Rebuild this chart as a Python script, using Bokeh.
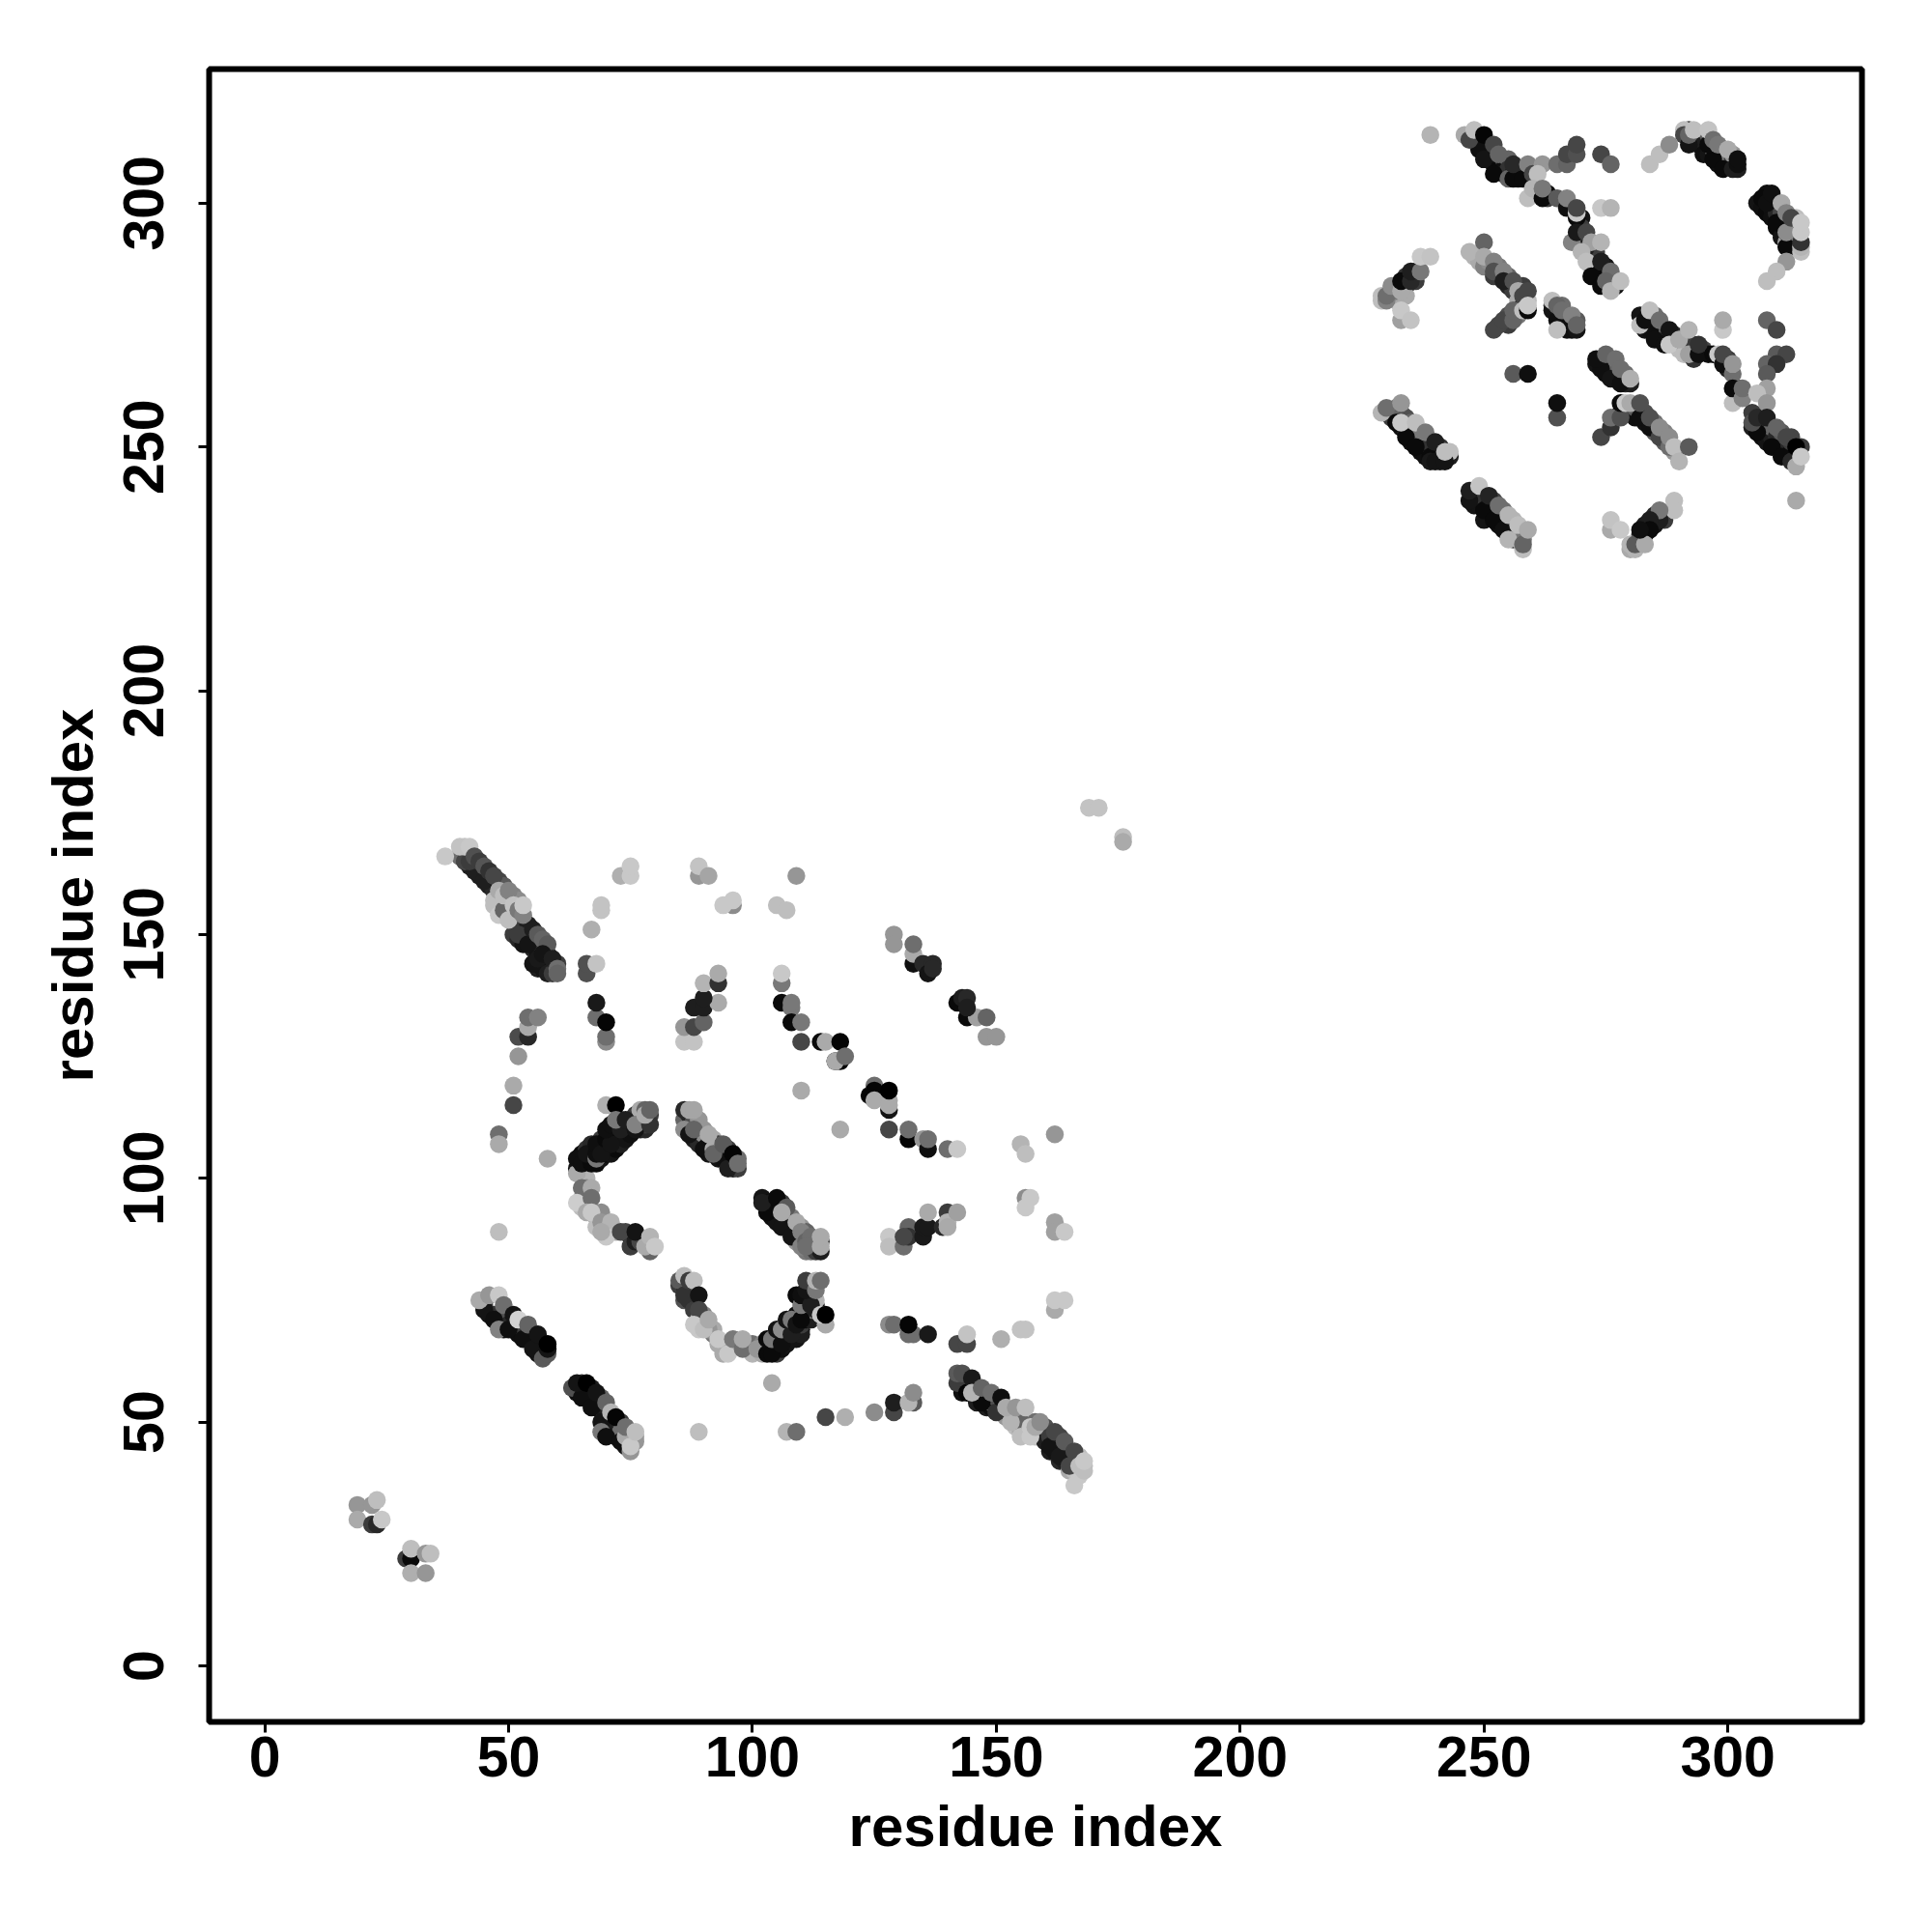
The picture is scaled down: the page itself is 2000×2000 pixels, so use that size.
from bokeh.plotting import figure
from bokeh.models import ColumnDataSource, Range1d, FixedTicker
from bokeh.embed import file_html
from bokeh.resources import INLINE

tick_values = [0, 50, 100, 150, 200, 250, 300]
axis_title = "residue index"

# each contact is (residue i, residue j, grey level)
under_a = [(41,166,40),(42,164,30),(43,165,50),(44,162,30),(44,164,70),(45,162,60),(46,160,30),(46,162,60),(47,160,50),(47,159,40),(48,157,110),(48,161,70),
 (49,160,90),(49,156,120),(50,155,110),(50,157,150),(51,154,170),(51,158,130),(52,157,140),(52,152,180),(51,150,60),(52,149,40),(53,152,60),(53,149,60),(53,148,20),(54,152,30),(54,150,40),
 (55,149,20),(55,147,40),(56,148,30),(56,146,20),(57,147,70),(57,144,20),(58,146,40),(58,145,30),(58,143,20),(59,144,25),(59,143,15),(60,144,60),(56,143,30),(57,143,20)]
under_b = [(65,105,10),(66,103,15),(66,106,50),(67,105,15),(67,107,40),(68,103,10),(69,107,15),(69,104,20),(69,108,60),(70,105,10),(70,106,90),(71,109,15),(71,105,20),
 (72,108,20),(72,106,10),(72,110,40),(73,108,15),(73,107,30),(73,112,20),(74,110,90),(74,108,20),(75,110,20),(75,112,40),(75,109,15),(76,113,60),(77,110,30),(77,112,60),
 (78,110,40),(78,111,60),(77,114,170),(78,114,100),(79,113,60),(64,102,20),(65,101,120),(66,100,180),(66,98,140),(65,96,190),(66,96,170),(65,94,190),(68,92,170),(68,90,190),
 (69,93,140),(70,90,160),(72,89,170),(74,89,70),(75,88,40),(75,86,60),(78,87,150)]
under_c = [(86,112,100),(87,111,110),(87,113,40),(88,112,80),(88,108,30),(89,108,20),(89,110,90),(89,107,40),(89,112,150),(90,109,140),(90,110,150),(91,107,40),(91,105,20),
 (92,108,170),(93,105,30),(93,107,60),(93,104,20),(94,105,60),(95,104,40),(95,106,60),(96,103,20),(96,102,30),(97,102,60),(97,104,110)]
under_d = [(45,74,60),(46,72,20),(47,72,50),(48,71,30),(49,71,80),(49,69,15),(50,70,40),(51,69,15),(52,68,15),(52,70,80),(53,69,60),(54,67,15),(55,68,70),(55,66,20),(56,66,15),
 (57,66,40),(57,64,20),(58,65,20),(56,64,20),(54,68,40),(56,67,80)]
under_e = [(64,57,30),(64,56,15),(65,58,50),(65,57,80),(66,55,20),(66,56,60),(67,57,30),(67,55,60),(68,54,20),(68,53,15),(69,55,100),(69,53,70),(70,52,30),(70,50,15),(71,51,90),
 (71,50,20),(71,48,15),(72,49,30),(72,47,15),(73,50,60),(73,48,110),(74,45,20),(74,46,120),(75,46,100),(75,48,140),(76,47,160)]
under_f = [(103,65,15),(103,66,15),(104,65,10),(104,66,30),(105,65,15),(105,64,60),(105,67,15),(106,65,15),(106,67,15),(106,68,50),(107,66,20),(107,68,15),(107,69,90),(108,70,15),
 (108,67,20),(109,67,20),(109,69,10),(109,72,15),(110,69,20),(110,68,30),(110,70,60),(110,72,30),(111,72,40),(111,71,15),(111,74,15),(111,75,90),(112,72,20),(112,71,30),(112,76,20),
 (112,73,120),(113,73,30),(113,74,15),(112,78,170),(113,75,180),(85,78,60),(86,78,30),(87,77,100),(86,75,80),(87,75,50),(88,73,60),(89,71,180),(89,69,200),(90,72,130),(92,68,120),
 (92,69,170),(94,66,190),(94,64,170),(97,66,150),(100,66,110),(100,64,180),(102,66,130),(102,64,170)]
under_g = [(102,96,20),(103,95,15),(104,95,30),(104,92,15),(105,93,15),(105,91,20),(106,95,60),(107,92,20),(107,90,15),(108,92,120),(108,90,20),(109,90,80),(109,88,15),(109,87,150),
 (110,88,20),(110,90,150),(111,89,100),(111,85,120),(112,86,30),(112,85,110),(113,85,60),(113,87,130),(114,87,40)]
under_h = [(143,58,30),(143,56,15),(144,58,50),(145,58,20),(145,57,30),(146,57,60),(146,55,10),(146,54,30),(147,56,50),(148,55,20),(148,56,100),(148,53,30),(149,53,15),(149,54,100),
 (150,54,20),(150,55,80),(151,52,30),(151,53,100),(152,51,150),(153,52,140),(154,51,170),(154,49,190),(155,52,160),(155,48,170),(156,50,150),(156,48,190),(157,50,170),(158,47,190),
 (158,50,110),(159,48,180),(160,48,60),(160,46,30),(160,49,80),(161,47,60),(161,44,30),(162,46,50),(162,44,20),(163,47,70),(163,42,40),(164,44,60),(164,42,30),(165,44,60),(165,42,190),
 (165,40,170),(166,42,180),(166,40,190),(167,43,190),(167,39,200),(168,41,190)]
under_top_one = [(249,313,15),(250,312,10),(251,310,15),(251,312,30),(252,310,40),(252,308,15),(253,308,20),(253,307,10),(254,309,80),(254,307,15),(254,306,30),(255,309,100),(255,307,50),
 (256,306,20),(257,307,30),(257,305,15),(258,307,80),(260,305,100),(263,302,10),(263,301,60),(270,297,20),(270,295,60),(270,293,30),(270,292,120),(272,290,40),(272,288,15),(273,290,60),
 (273,287,15),(273,285,10),(274,285,100),(275,287,20),(275,286,120),(276,284,30),(277,284,60),(277,283,20),(272,287,190),(273,286,10),(276,283,15),(271,291,30)]
under_top_two = [(292,315,50),(293,313,30),(294,312,20),(294,314,60),(295,312,30),(295,310,15),(296,310,20),(296,314,90),(297,311,110),(298,308,15),(298,310,70),(299,311,90),(299,309,30),
 (300,308,20),(300,309,130),(301,309,60),(301,310,150),(302,307,30),(306,300,20),(307,299,15),(308,298,10),(308,302,15),(309,299,20),(309,297,15),(310,300,120),(310,298,40),(310,295,10),
 (311,298,70),(311,295,15),(311,293,20),(312,296,60),(313,295,30),(313,294,60),(313,293,190),(313,292,100),(314,294,170),(314,297,190),(314,292,60),(314,291,30),(312,292,160)]
under_mid_one = [(248,289,180),(249,288,170),(250,287,130),(251,288,140),(252,285,60),(253,287,120),(253,285,60),(254,285,60),(255,285,100),(255,283,40),(256,282,60),(257,280,170),(258,283,60),
 (258,279,20),(259,280,190),(257,277,120),(255,277,80),(255,275,60),(253,275,70),(264,279,60),(265,277,30),(266,276,40),(266,279,110),(267,276,20),(267,277,100),(267,275,50),(268,275,20),
 (268,274,15),(268,276,110),(269,276,90)]
under_mid_two = [(273,267,20),(274,268,80),(275,265,15),(275,267,60),(276,267,90),(276,266,30),(277,265,15),(277,266,100),(278,264,20),(279,264,15),(279,265,110),(279,263,40),(280,263,30),
 (278,257,20),(280,257,60),(281,256,15),(281,258,90),(283,255,20),(283,257,80),(285,253,90),(285,255,110),(287,251,90),(287,253,130),(289,249,150)]
under_mid_three = [(282,277,20),(283,274,20),(284,276,50),(285,275,30),(285,277,110),(286,273,10),(286,272,30),(287,274,50),(287,273,90),(288,272,40),(289,271,120),(289,273,40),(290,270,190),
 (291,271,60),(291,269,190),(293,269,130),(293,271,60),(293,268,50),(295,270,70),(296,269,15),(300,266,30),(300,268,60),(302,262,40)]
under_low_one = [(305,254,30),(306,254,30),(307,254,15),(307,252,15),(307,255,70),(308,252,15),(308,251,20),(308,254,90),(309,252,30),(309,254,100),(310,250,10),(310,252,40),(311,250,20),
 (311,253,90),(312,249,15),(312,250,40),(313,249,15),(313,251,60),(313,252,70),(314,248,30),(315,250,60),(314,247,150)]
under_low_two = [(231,257,140),(231,256,60),(232,258,110),(232,256,50),(233,254,15),(233,257,100),(234,256,80),(234,253,30),(235,253,15),(235,251,15),(235,255,100),(236,252,30),(237,251,15),
 (237,249,15),(237,253,120),(238,250,20),(238,249,10),(238,248,15),(239,250,50),(240,248,15),(240,249,40),(241,248,20),(241,250,50),(241,247,25),(242,248,30),(243,248,30),(243,249,190)]
under_low_three = [(248,240,30),(248,238,20),(249,238,20),(249,240,100),(250,239,50),(250,235,20),(251,237,15),(251,238,30),(252,236,20),(252,239,70),(253,234,15),(253,236,30),(254,235,30),
 (254,237,110),(255,232,15),(255,234,15),(256,233,130),(256,235,180),(256,231,60),(257,232,100),(257,231,190),(258,232,170),(258,231,120),(282,231,60),(282,232,40),(283,232,20),(283,234,30),
 (285,234,20),(285,236,40),(287,235,60),(280,229,170)]
under_left = [(231,282,100),(231,281,180),(232,280,170),(232,283,60),(232,282,120),(234,283,30),(234,285,50),(234,281,170),(236,285,30),(236,284,60),(236,286,70),(229,280,190)]

small_pairs = [(19,33,150),(19,30,170),(22,33,150),(23,34,190),(22,29,60),(23,29,40),(24,30,200),
 (29,22,60),(30,22,10),(30,24,190),(30,19,175),(33,19,150),(33,23,150),(34,23,190)]
strand_a = [(43,163,30),(45,161,30),(52,150,60),(54,148,20),(55,144,20),(56,145,25),(58,142,30),(59,142,60),
 (40,166,110),(41,165,70),(42,165,60),(37,166,200),(40,168,195),(41,168,195),(42,168,200),
 (43,166,80),(44,165,60),(45,164,85),(46,163,50),(47,162,70),(47,157,190),(47,156,190),(48,154,200),(49,155,100),(48,159,170),
 (50,153,190),(49,158,190),(50,159,130),(51,156,195),(52,155,120),(53,154,130),(53,156,200),
 (55,151,30),(56,150,90),(57,149,100),(58,148,90),(57,146,20),(59,145,30),(60,143,110),(60,142,100)]
arcs_left = [(48,109,110),(48,107,170),(48,89,190),(58,104,170),(51,115,70),(51,119,170),(52,125,150),(52,129,75),(54,129,40),
 (54,131,170),(54,133,110),(56,133,130),(70,128,140),(70,129,110),(68,133,110),(70,132,5),(68,136,25),(66,142,80),(66,144,80),
 (68,144,195),(67,151,175),(69,155,195),(69,156,195),(73,162,175),(75,162,200),(75,164,200),(89,162,150),(89,164,195),(91,162,165),
 (96,156,140),(94,156,200),(96,157,200),(105,156,190),(107,155,190),(109,162,150)]
strand_b = [(64,101,170),(65,98,110),(67,98,170),(64,95,205),(67,96,110),(66,93,170),(67,93,200),(69,91,150),(71,91,180),(70,88,200),
 (69,89,170),(73,89,70),(76,87,30),(77,87,70),(76,89,20),(79,85,100),(78,86,170),(79,88,180),(80,86,200),
 (64,104,15),(65,103,15),(67,103,10),(66,105,20),(68,104,120),(68,105,15),(68,107,15),(69,105,20),(70,108,10),(71,107,20),(70,110,15),
 (71,111,15),(70,115,175),(72,115,0),(73,110,30),(72,112,120),(74,112,30),(76,110,20),(76,111,130),(79,111,50),(78,113,170),(79,114,100)]
strand_c = [(86,110,140),(87,109,20),(90,106,15),(94,104,15),(95,102,30),(86,114,40),(87,114,165),(88,114,165),(88,110,100),
 (91,109,170),(92,106,170),(92,105,100),(94,107,90),(96,105,5),(97,103,110)]
block_mid = [(86,128,195),(88,128,195),(86,131,150),(88,131,70),(90,132,100),(88,135,30),(90,135,30),(93,136,170),(90,137,30),
 (90,140,180),(93,140,50),(93,142,170),(106,140,120),(106,142,200),(106,136,10),(108,135,120),(108,136,120),(108,132,10),(110,132,120),
 (110,128,70),(114,128,10),(115,128,170),(118,128,5),(117,124,5),(118,124,5),(117,124,170),(119,125,110),(110,118,170),(118,110,170),
 (124,117,5),(125,119,110),(125,118,5),(125,116,170),(128,114,20),(128,116,170),(128,115,170),(128,118,0),(128,110,70),(132,108,5),
 (132,110,110),(135,108,150),(136,106,15),(136,108,110),(140,106,110),(142,106,200),(129,150,150),(129,148,150),(133,144,15),(133,146,170),
 (133,148,110),(135,144,40),(136,142,20),(137,144,40),(137,143,40),(142,136,10),(144,133,10),(146,133,160),(143,137,30),(144,137,40),
 (144,135,30),(148,133,100),(148,129,150),(150,129,150)]
far_right = [(155,107,180),(156,105,190),(162,109,150),(156,96,140),(156,94,200),(157,96,200),(162,91,160),(162,89,160),(164,89,200),
 (128,88,200),(128,86,190),(131,86,110),(132,90,100),(132,88,50),(131,88,70),(135,88,25),(135,90,25),(136,90,25),(136,93,170),(139,90,40),
 (140,93,60),(140,91,180),(140,90,170),(142,93,160),(128,70,140),(129,70,110),(132,68,110),(133,68,110),(132,70,5),(136,68,25),
 (142,66,70),(144,66,70),(144,68,195),(151,67,175),(155,69,195),(156,69,195),(162,73,170),(162,75,200),(164,75,200),
 (115,51,70),(119,51,175),(125,52,140),(129,52,70),(129,54,30),(133,54,90),(132,54,180),(133,56,140),(169,176,195),(171,176,195),
 (176,170,190),(176,169,170)]
strand_d = [(45,73,20),(47,71,15),(48,69,130),(50,69,15),(53,67,15),(55,65,20),(57,63,90),(58,64,90),(44,75,170),(46,76,150),(48,76,200),
 (49,74,110),(51,72,20),(52,71,210),(54,70,100),(56,68,20),(58,65,20),(58,66,0)]
strand_e = [(63,57,80),(65,55,15),(67,53,15),(69,50,20),(69,48,120),(70,47,15),(73,46,15),(64,58,20),(66,58,0),(68,56,20),(70,54,100),
 (71,52,180),(72,51,5),(74,47,170),(74,49,110),(75,44,150),(76,46,150),(75,45,200),(76,48,190)]
strand_f = [(85,79,90),(86,76,50),(86,80,190),(87,79,60),(88,79,190),(89,76,20),(89,73,70),(88,70,200),(91,69,150),(90,69,190),(91,71,170),
 (93,66,170),(93,67,200),(95,64,200),(96,67,120),(98,65,110),(98,67,170),(101,65,150),(103,64,10),(104,64,10),(103,67,10),(104,67,120),(106,66,15),
 (105,69,20),(106,69,140),(107,71,20),(108,68,30),(108,71,120),(109,70,20),(110,71,10),(109,76,10),(110,74,120),(110,76,15),(112,74,30),
 (111,77,20),(111,79,60),(113,77,120),(113,79,180),(114,79,110),(115,70,170),(114,72,200),(115,72,0),(104,58,170),(89,48,190),(107,48,180),(109,48,110)]
strand_g = [(103,93,10),(106,90,20),(108,88,20),(110,86,130),(114,85,30),(102,95,30),(105,96,10),(107,94,90),(106,93,170),(109,91,170),(110,89,130),
 (111,87,100),(112,88,110),(111,86,110),(114,86,170),(114,88,170)]
strand_h = [(142,58,60),(144,56,5),(147,54,10),(150,52,50),(142,60,90),(143,60,80),(145,59,25),(145,56,180),(147,57,100),(149,56,110),(151,55,15),
 (155,50,100),(153,50,180),(152,53,170),(154,53,150),(155,47,190),(157,47,200),(157,49,200),(156,53,190),(158,49,170),(159,50,140),(161,45,20),(163,43,25),
 (162,48,70),(164,46,90),(165,41,70),(166,37,200),(166,44,70),(167,41,190),(168,40,190),(168,42,200)]

top_one = [(239,314,180),(249,311,15),(250,309,20),(252,306,10),(255,305,100),(256,305,10),(246,314,170),(247,313,70),(248,315,190),(250,314,5),
 (252,312,70),(253,310,100),(256,308,40),(258,305,10),(259,308,130),(260,306,70),(262,308,150),(265,308,110),(267,308,100),(267,310,70),(269,310,80),
 (269,312,70),(274,310,70),(276,308,100),(259,301,190),(261,306,190),(260,303,180),(262,301,10),(262,303,120),(265,301,90),(267,299,15),(267,301,130),
 (269,297,10),(269,298,200),(269,299,70),(274,299,200),(276,299,180),(268,292,130),(269,294,25),(271,294,70),(272,292,160),(274,292,180),
 (270,290,180),(271,288,190),(272,285,10),(274,283,10),(274,288,30),(276,286,110),(275,284,100),(276,282,180),(278,284,190)]
top_two = [(297,309,10),(299,307,10),(301,307,30),(284,308,190),(286,310,190),(288,312,140),(291,315,190),(291,314,70),(292,312,20),(292,314,100),
 (293,315,190),(296,312,10),(296,315,195),(297,313,110),(298,312,120),(300,311,170),(302,308,15),(302,309,15),
 (307,301,10),(308,300,15),(310,296,10),(312,294,10),(309,302,15),(311,300,170),(312,298,130),(312,291,10),(312,294,140),(313,297,70),(315,290,190),(315,291,180),
 (315,292,50),(315,294,200),(315,296,200),(312,288,150),(310,286,190),(308,284,190)]
left_cluster = [(229,281,190),(230,280,130),(230,281,110),(231,283,140),(233,282,170),(233,284,10),(235,284,40),(235,286,30),(237,286,120),(237,289,200),
 (239,289,195),(233,276,160),(233,278,200),(235,276,195)]
mid_one = [(247,290,180),(250,292,100),(250,289,170),(252,288,130),(252,286,80),(254,286,130),(254,284,30),(256,284,80),(257,282,170),(258,281,70),
 (259,282,70),(252,274,70),(254,276,70),(256,276,100),(256,278,100),(258,278,190),(259,278,10),(259,279,200),
 (264,278,20),(265,276,15),(267,274,15),(265,274,190),(269,274,20),(264,280,190),(265,279,100),(266,278,110),(268,277,130),(269,275,100),
 (256,265,90),(259,265,15),(265,256,80),(265,259,15)]
mid_two = [(274,266,15),(276,264,20),(278,263,15),(273,268,15),(275,269,100),(277,268,110),(278,266,110),(280,264,175),
 (274,252,70),(276,254,50),(276,256,110),(278,256,80),(278,259,10),(279,259,200),(282,256,15),(284,254,15),(286,252,70),(288,250,110),(280,259,170),
 (282,259,80),(284,256,80),(286,254,140),(288,252,140),(289,250,190),(290,247,180),(292,250,90)]
mid_three = [(284,274,15),(285,272,15),(287,271,15),(282,275,190),(283,276,15),(284,278,190),(286,276,110),(288,274,20),(288,271,200),(290,272,170),
 (292,274,180),(292,269,160),(294,269,15),(294,271,50),(297,269,10),(298,269,200),(299,267,15),(299,269,70),(301,265,110),(301,267,150),
 (301,259,190),(301,262,10),(303,260,130),(303,262,110),(299,274,200),(299,276,170),(308,276,100),(310,274,70),(310,269,90),(312,269,70),
 (308,267,100),(310,267,50),(308,265,90),(308,262,160),(306,261,190),(308,259,150)]
low_one = [(306,253,10),(309,250,10),(311,248,10),(313,247,40),(305,257,60),(305,255,80),(306,256,40),(308,256,30),(310,254,100),(312,252,70),
 (314,250,0),(314,246,170),(315,248,200),(314,239,170)]
low_two = [(232,255,10),(234,252,10),(236,250,10),(239,248,10),(239,247,25),(240,247,20),(242,247,20),(229,257,180),(230,258,110),(233,259,150),(233,255,200),
 (236,255,190),(238,253,120),(240,251,30),(242,249,190)]
low_three = [(247,239,20),(250,237,10),(252,235,10),(254,233,15),(247,241,30),(249,242,195),(251,240,35),(253,238,110),(255,236,180),(255,231,180),(258,229,190),(258,230,100),(257,234,190),
 (259,233,170),(276,233,170),(276,235,195),(278,233,200),(289,239,190),(289,237,190),(286,235,30),(286,237,120),(284,235,30),(284,233,10),
 (281,229,180),(280,230,180),(281,230,90),(283,230,170),(282,233,15)]

all_strands = [under_a, under_b, under_c, under_d, under_e, under_f, under_g, under_h, under_top_one, under_top_two,
               under_mid_one, under_mid_two, under_mid_three, under_low_one, under_low_two, under_low_three, under_left,
               small_pairs, strand_a, arcs_left, strand_b, strand_c, block_mid, far_right, strand_d, strand_e, strand_f,
               strand_g, strand_h, top_one, top_two, left_cluster, mid_one, mid_two, mid_three, low_one, low_two, low_three]

xs, ys, colors = [], [], []
for strand in all_strands:
    for i, j, g in strand:
        xs.append(i)
        ys.append(j)
        colors.append("#%02x%02x%02x" % (g, g, g))

p = figure(width=1958, height=1958, output_backend="svg", toolbar_location=None,
           x_range=Range1d(-11.4, 327.5), y_range=Range1d(-11.5, 327.5),
           frame_width=1711, frame_height=1711,
           min_border_left=216, min_border_top=71, min_border_right=31, min_border_bottom=176)
p.grid.visible = False
p.background_fill_color = "white"
p.border_fill_color = "white"
p.outline_line_color = "black"
p.outline_line_width = 6

src = ColumnDataSource(dict(x=xs, y=ys, c=colors))
p.scatter("x", "y", source=src, size=18.5, fill_color="c", line_color=None)

for ax, orient in ((p.xaxis[0], "horizontal"), (p.yaxis[0], "vertical")):
    ax.ticker = FixedTicker(ticks=tick_values)
    ax.axis_label = axis_title
    ax.axis_label_text_font = "Liberation Sans"
    ax.axis_label_text_font_style = "bold"
    ax.axis_label_text_font_size = "60px"
    ax.axis_label_text_color = "black"
    ax.major_label_text_font = "Liberation Sans"
    ax.major_label_text_font_style = "bold"
    ax.major_label_text_font_size = "59px"
    ax.major_label_text_color = "black"
    ax.major_label_orientation = orient
    ax.major_tick_in = 0
    ax.major_tick_out = 11
    ax.major_tick_line_width = 3
    ax.major_tick_line_color = "black"
    ax.minor_tick_line_color = None
    ax.axis_line_color = None

p.xaxis[0].major_label_standoff = 4
p.xaxis[0].axis_label_standoff = 15
p.yaxis[0].major_label_standoff = 36
p.yaxis[0].axis_label_standoff = 17

open("out.html", "w").write(file_html(p, INLINE))
